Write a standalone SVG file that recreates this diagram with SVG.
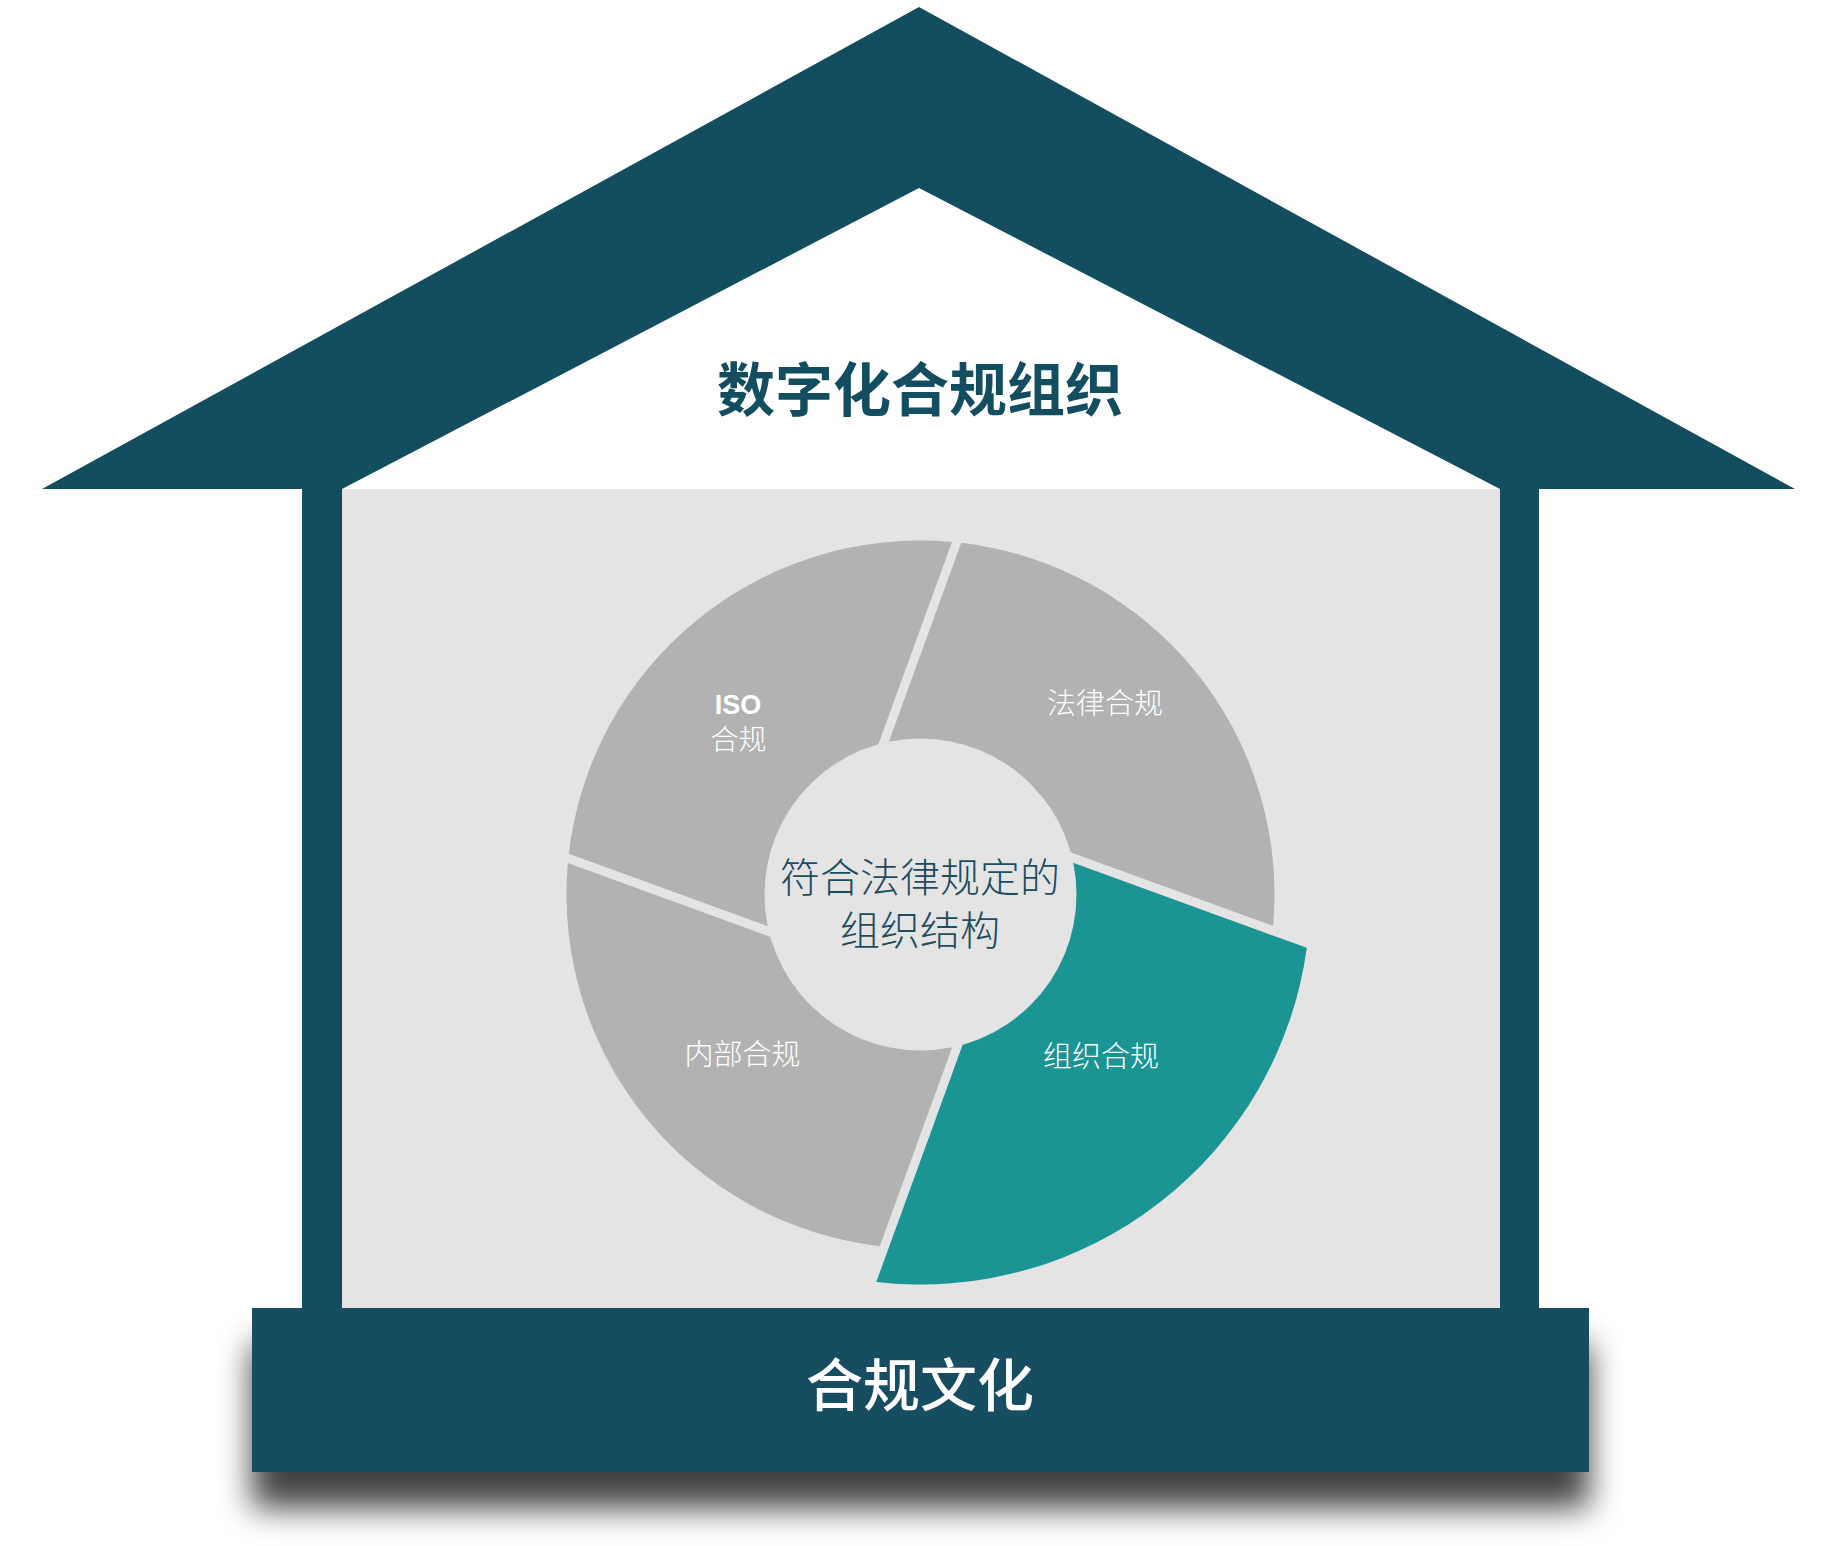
<svg xmlns="http://www.w3.org/2000/svg" width="1837" height="1546" viewBox="0 0 1837 1546">
  <defs>
    <style>
      .dark { fill: #124d60; }
      .panel { fill: #e4e4e4; }
      .seg { fill: #b3b2b2; }
      .teal { fill: #1b9593; }
      .lbl { font-family: "Noto Sans CJK SC", "Noto Sans", sans-serif; font-size: 29px; font-weight: 300; fill: #ffffff; text-anchor: middle; }
      .ctr { font-family: "Noto Sans CJK SC", "Noto Sans", sans-serif; font-size: 40px; font-weight: 300; fill: #1c4c5e; text-anchor: middle; }
      .title { font-family: "Noto Sans CJK SC", "Noto Sans", sans-serif; font-size: 58px; font-weight: 700; fill: #124d60; text-anchor: middle; }
      .basetxt { font-family: "Noto Sans CJK SC", "Noto Sans", sans-serif; font-size: 57px; font-weight: 500; fill: #ffffff; text-anchor: middle; }
    </style>
    <filter id="baseShadow" x="-10%" y="-30%" width="120%" height="200%">
      <feDropShadow dx="0" dy="36" stdDeviation="16" flood-color="#000000" flood-opacity="0.74"/>
    </filter>
  </defs>

  <rect width="1837" height="1546" fill="#ffffff"/>

  <g id="roof">
    <path class="dark" d="M919,7 L1795,489 L1500,489 L919,188 L342,489 L42,489 Z"/>
  </g>

  <g id="walls">
    <rect class="dark" x="302" y="489" width="40" height="819"/>
    <rect class="dark" x="1500" y="489" width="39" height="819"/>
  </g>

  <g id="panel">
    <rect class="panel" x="342" y="489" width="1158" height="819"/>
  </g>

  <g id="title">
    <text class="title" x="920" y="411">数字化合规组织</text>
  </g>

  <g id="seg-legal">
    <path class="seg" d="M961.23,542.85 A354,354 0 0 1 1273.09,925.99 L874.57,780.94 Z"/>
    <text class="lbl" x="1105" y="714">法律合规</text>
  </g>

  <g id="seg-org">
    <path class="teal" d="M1306.84,947.85 A390,390 0 0 1 876.30,1281.99 L1034.06,848.57 Z"/>
  </g>

  <g id="seg-internal">
    <path class="seg" d="M879.77,1246.15 A354,354 0 0 1 567.91,863.01 L966.43,1008.06 Z"/>
    <text class="lbl" x="742.5" y="1065">内部合规</text>
  </g>

  <g id="seg-iso">
    <path class="seg" d="M568.85,853.77 A354,354 0 0 1 951.99,541.91 L806.94,940.43 Z"/>
    <text x="738" y="714" font-family="Liberation Sans, Arial, sans-serif" font-size="27" font-weight="bold" fill="#ffffff" text-anchor="middle">ISO</text>
    <text class="lbl" x="738.5" y="750" style="font-size:28px">合规</text>
  </g>

  <g id="center">
    <circle class="panel" cx="920.5" cy="894.5" r="156"/>
    <text class="ctr" x="920" y="892">符合法律规定的</text>
    <text class="ctr" x="920" y="945">组织结构</text>
  </g>

  <g id="seg-org-label">
    <text class="lbl" x="1101" y="1067">组织合规</text>
  </g>

  <g id="base">
    <rect class="dark" x="252" y="1308" width="1337" height="164" filter="url(#baseShadow)"/>
    <text class="basetxt" x="920" y="1406">合规文化</text>
  </g>
</svg>
